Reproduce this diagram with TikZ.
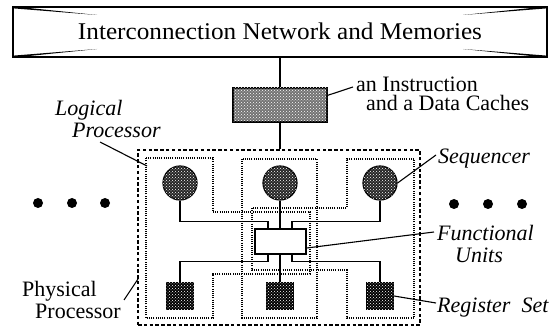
\documentclass[tikz,border=0pt]{standalone}
\usepackage{fontspec}
\usepackage{graphicx}
\setmainfont{Liberation Serif}
\usetikzlibrary{patterns}
\begin{document}
\begin{tikzpicture}[x=1pt,y=-1pt,
  conn/.style={line width=1.3pt},
  lead/.style={line width=1.1pt},
  lpline/.style={line width=1.1pt, dash pattern=on 1pt off 1.2pt},
  ppbox/.style={draw, line width=2pt, dash pattern=on 3.5pt off 2.3pt, minimum width=282pt, minimum height=175pt, inner sep=0pt},
  netbox/.style={draw, line width=1.4pt, minimum width=534pt, minimum height=50pt, inner sep=0pt},
  cachebox/.style={draw, line width=1.3pt, fill=black!55, postaction={pattern=crosshatch dots, pattern color=white}, minimum width=94pt, minimum height=34pt, inner sep=0pt},
  seqc/.style={circle, draw, line width=1.2pt, fill=black!85, postaction={pattern=crosshatch dots, pattern color=white}, minimum size=34pt, inner sep=0pt},
  regs/.style={draw, line width=1.2pt, fill=black, postaction={pattern=crosshatch dots, pattern color=white}, minimum size=27pt, inner sep=0pt},
  fubox/.style={draw, line width=1.5pt, fill=white, minimum width=51pt, minimum height=25pt, inner sep=0pt},
  bigdot/.style={circle, fill=black, minimum size=10pt, inner sep=0pt},
  ilbl/.style={font=\fontsize{22}{22}\selectfont\itshape, inner sep=0pt, align=left},
  rlbl/.style={font=\fontsize{22}{20}\selectfont, inner sep=0pt, align=left},
  wedge/.style={fill=black}
]
\useasboundingbox (0,0) rectangle (558,329);

% top box
\node[netbox] (net) at (280,32) {};
\fill[wedge] (net.north west) -- (97,15) -- ([yshift=-2pt]net.north west) -- cycle;
\fill[wedge] (net.south west) -- (97,49) -- ([yshift=2pt]net.south west) -- cycle;
\fill[wedge] (net.north east) -- (463,15) -- ([yshift=-2pt]net.north east) -- cycle;
\fill[wedge] (net.south east) -- (463,49) -- ([yshift=2pt]net.south east) -- cycle;
\node[font=\fontsize{24}{24}\selectfont, inner sep=0pt, anchor=base] (nettext) at (280,40) {\resizebox{404pt}{\height}{Interconnection Network and Memories}};

% cache
\node[cachebox] (cache) at (280,105) {};
\draw[conn] (net.south) -- (cache.north);

% physical processor
\node[ppbox] (pp) at (279,237.5) {};
\draw[conn] (cache.south) -- (cache.south |- pp.north);

% logical processors
\draw[lpline] (146,158) -- (213,158) -- (213,212) -- (310,212) -- (310,274) -- (213,274) -- (213,318) -- (146,318) -- cycle;
\draw[lpline] (242,159) rectangle (317,318);
\draw[lpline] (414,159) -- (347,159) -- (347,208) -- (252,208) -- (252,270) -- (347,270) -- (347,318) -- (414,318) -- cycle;

% sequencers, register sets, FU
\node[seqc] (s1) at (180,183) {};
\node[seqc] (s2) at (280,183) {};
\node[seqc] (s3) at (380,183) {};
\node[regs] (r1) at (180,296) {};
\node[regs] (r2) at (280,296) {};
\node[regs] (r3) at (380,296) {};
\node[fubox] (fu) at (280.5,241.5) {};

\draw[conn] (s1.south) -- ++(0,21) -| ([xshift=-12.5pt]fu.north);
\draw[conn] (s3.south) -- ++(0,21) -| ([xshift=11.5pt]fu.north);
\draw[conn] (s2.south) -- (s2.south |- fu.north);
\draw[conn] (r1.north) -- ++(0,-20.5) -| ([xshift=-12.5pt]fu.south);
\draw[conn] (r3.north) -- ++(0,-20.5) -| ([xshift=11.5pt]fu.south);
\draw[conn] (r2.north) -- (r2.north |- fu.south);

% ellipsis dots
\node[bigdot] (dl1) at (38,203) {};
\node[bigdot] (dl2) at (72,203) {};
\node[bigdot] (dl3) at (105,203) {};
\node[bigdot] (dr1) at (454,204) {};
\node[bigdot] (dr2) at (488,204) {};
\node[bigdot] (dr3) at (522,204) {};

% labels (anchor base = baseline of the last line)
\node[rlbl, anchor=base west] (cachelbl) at (356,111) {an Instruction\\\hspace*{10pt}and a Data Caches};
\coordinate (cacheend) at (353,87);
\draw[lead] ([yshift=-8pt]cache.north east) -- (cacheend);

\node[ilbl, anchor=base west] (lplbl) at (55,138) {Logical\\\hspace*{17pt}Processor};
\coordinate (lpend) at (100,142);
\coordinate (lptip) at (147,166);
\draw[lead] (lpend) -- (lptip);

\node[rlbl, anchor=base west, font=\fontsize{22}{22}\selectfont] (pplbl) at (22,318) {Physical\\\hspace*{13pt}Processor};
\coordinate (ppend) at (124,300);
\coordinate (pptip) at (138,279);
\draw[lead] (ppend) -- (pptip);

\node[ilbl, anchor=base west] (seqlbl) at (438,164) {Sequencer};
\coordinate (seqend) at (436,155);
\draw[lead] (s3.east) -- (seqend);

\node[ilbl, anchor=base west] (fulbl) at (437,262) {Functional\\\hspace*{18pt}Units};
\coordinate (fuend) at (434,232);
\draw[lead] ([yshift=-6.5pt]fu.east) -- (fuend);

\node[ilbl, anchor=base west] (reglbl) at (437,312) {Register\ \ Set};
\coordinate (regend) at (436,303);
\draw[lead] (r3.east) -- (regend);
\end{tikzpicture}
\end{document}
